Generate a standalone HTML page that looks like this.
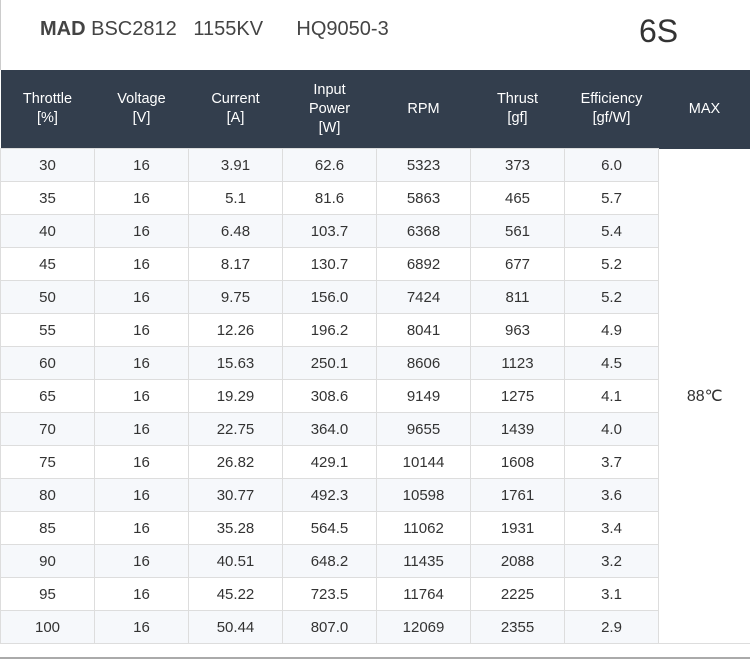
<!DOCTYPE html>
<html><head><style>
body{margin:0;width:750px;height:660px;background:#fff;font-family:"Liberation Sans",sans-serif;position:relative;overflow:hidden}
.t{position:absolute;left:40px;top:18px;font-size:20px;color:#444}
.s{position:absolute;left:639px;top:13px;font-size:32px;color:#333}
.lb{position:absolute;left:0;top:0;width:1px;height:70px;background:#ccc}
table{position:absolute;left:0;top:70px;border-collapse:collapse;width:750px;table-layout:fixed;font-size:15px;color:#333}
th{background:#333e4d;color:#fff;font-weight:normal;height:78px;padding:0;line-height:19px;font-size:14.5px}
td{height:32px;padding:0;text-align:center;border:1px solid #ddd}
tr:nth-child(even) td{background:#f6f8fb}
td.m{background:#fff!important;font-size:16px;border:none;border-bottom:1px solid #ddd}
.bl{position:absolute;left:0;top:657px;width:750px;height:2px;background:#aaa}
</style></head><body>
<div class="lb"></div>
<div class="t"><b>MAD</b> BSC2812&nbsp;&nbsp;&nbsp;1155KV&nbsp;&nbsp;&nbsp;&nbsp;&nbsp;&nbsp;HQ9050-3</div>
<div class="s">6S</div>
<table>
<colgroup><col style="width:94px"><col style="width:94px"><col style="width:94px"><col style="width:94px"><col style="width:94px"><col style="width:94px"><col style="width:94px"><col style="width:92px"></colgroup>
<tr><th>Throttle<br>[%]</th><th>Voltage<br>[V]</th><th>Current<br>[A]</th><th>Input<br>Power<br>[W]</th><th>RPM</th><th>Thrust<br>[gf]</th><th>Efficiency<br>[gf/W]</th><th>MAX</th></tr>
<tr><td>30</td><td>16</td><td>3.91</td><td>62.6</td><td>5323</td><td>373</td><td>6.0</td><td class="m" rowspan="15">88&#8451;</td></tr>
<tr><td>35</td><td>16</td><td>5.1</td><td>81.6</td><td>5863</td><td>465</td><td>5.7</td></tr>
<tr><td>40</td><td>16</td><td>6.48</td><td>103.7</td><td>6368</td><td>561</td><td>5.4</td></tr>
<tr><td>45</td><td>16</td><td>8.17</td><td>130.7</td><td>6892</td><td>677</td><td>5.2</td></tr>
<tr><td>50</td><td>16</td><td>9.75</td><td>156.0</td><td>7424</td><td>811</td><td>5.2</td></tr>
<tr><td>55</td><td>16</td><td>12.26</td><td>196.2</td><td>8041</td><td>963</td><td>4.9</td></tr>
<tr><td>60</td><td>16</td><td>15.63</td><td>250.1</td><td>8606</td><td>1123</td><td>4.5</td></tr>
<tr><td>65</td><td>16</td><td>19.29</td><td>308.6</td><td>9149</td><td>1275</td><td>4.1</td></tr>
<tr><td>70</td><td>16</td><td>22.75</td><td>364.0</td><td>9655</td><td>1439</td><td>4.0</td></tr>
<tr><td>75</td><td>16</td><td>26.82</td><td>429.1</td><td>10144</td><td>1608</td><td>3.7</td></tr>
<tr><td>80</td><td>16</td><td>30.77</td><td>492.3</td><td>10598</td><td>1761</td><td>3.6</td></tr>
<tr><td>85</td><td>16</td><td>35.28</td><td>564.5</td><td>11062</td><td>1931</td><td>3.4</td></tr>
<tr><td>90</td><td>16</td><td>40.51</td><td>648.2</td><td>11435</td><td>2088</td><td>3.2</td></tr>
<tr><td>95</td><td>16</td><td>45.22</td><td>723.5</td><td>11764</td><td>2225</td><td>3.1</td></tr>
<tr><td>100</td><td>16</td><td>50.44</td><td>807.0</td><td>12069</td><td>2355</td><td>2.9</td></tr>
</table>
<div class="bl"></div>
</body></html>
